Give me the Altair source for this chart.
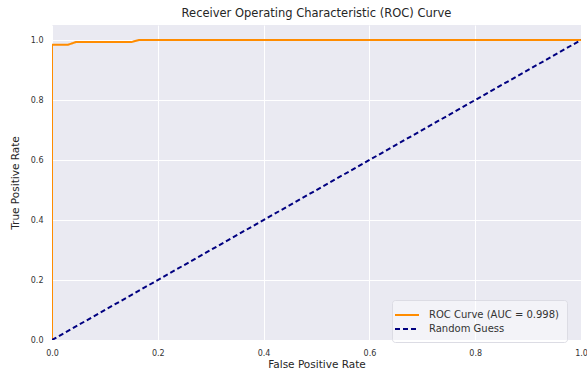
import altair as alt
import pandas as pd

# ROC curve points (false positive rate, true positive rate)
roc_fpr = [0.0, 0.0, 0.030, 0.045, 0.150, 0.165, 1.0]
roc_tpr = [0.0, 0.984, 0.984, 0.993, 0.993, 1.0, 1.0]

# Diagonal reference for a random classifier
guess_fpr = [0.0, 1.0]
guess_tpr = [0.0, 1.0]

roc_label = "ROC Curve (AUC = 0.998)"
guess_label = "Random Guess"
series_names = [roc_label, guess_label]
series_colors = ["#FF8C00", "#000080"]
series_dashes = [[1, 0], [5, 3]]

ticks = [0.0, 0.2, 0.4, 0.6, 0.8, 1.0]

rows = []
for i, (x, y) in enumerate(zip(roc_fpr, roc_tpr)):
    rows.append({"fpr": x, "tpr": y, "series": roc_label, "step": i})
for i, (x, y) in enumerate(zip(guess_fpr, guess_tpr)):
    rows.append({"fpr": x, "tpr": y, "series": guess_label, "step": i})
df = pd.DataFrame(rows)

font = "DejaVu Sans"

chart = (
    alt.Chart(df)
    .mark_line(strokeWidth=2, clip=True)
    .encode(
        x=alt.X(
            "fpr:Q",
            scale=alt.Scale(domain=[0, 1], nice=False),
            axis=alt.Axis(values=ticks, format=".1f", title="False Positive Rate"),
        ),
        y=alt.Y(
            "tpr:Q",
            scale=alt.Scale(domain=[0, 1.05], nice=False),
            axis=alt.Axis(values=ticks, format=".1f", title="True Positive Rate"),
        ),
        color=alt.Color(
            "series:N",
            scale=alt.Scale(domain=series_names, range=series_colors),
            title=None,
            legend=alt.Legend(
                orient="none",
                legendX=340,
                legendY=275,
                # wide, flat line sample so the rows stay tight
                symbolType="M-2,0L2,0",
                symbolSize=144,
                symbolStrokeWidth=2,
                labelOffset=15,
                labelFontSize=10,
                labelFont=font,
                labelColor="#333333",
                fillColor="rgba(255,255,255,0.45)",
                strokeColor="#DCDCE4",
                padding=8,
                cornerRadius=3,
                rowPadding=2,
            ),
        ),
        strokeDash=alt.StrokeDash(
            "series:N",
            scale=alt.Scale(domain=series_names, range=series_dashes),
            title=None,
        ),
        order="step:Q",
    )
    .properties(
        width=529,
        height=315,
        title=alt.TitleParams(
            "Receiver Operating Characteristic (ROC) Curve",
            font=font,
            fontSize=11.5,
            fontWeight="normal",
            color="#262626",
            offset=6,
        ),
        autosize=alt.AutoSizeParams(type="none"),
        padding={"left": 52, "top": 25, "right": 6, "bottom": 36},
    )
    .configure_view(fill="#EAEAF2", stroke=None)
    .configure_axis(
        grid=True,
        gridColor="white",
        gridWidth=1,
        domain=False,
        ticks=False,
        labelFont=font,
        labelFontSize=8,
        labelColor="#333333",
        labelPadding=9,
        labelFlush=False,
        titleFont=font,
        titleFontSize=10.5,
        titleFontWeight="normal",
        titleColor="#262626",
    )
    .configure_axisX(titlePadding=2)
    .configure_axisY(titlePadding=10)
)

chart.save("out.html", embed_options={"renderer": "svg", "actions": False})
